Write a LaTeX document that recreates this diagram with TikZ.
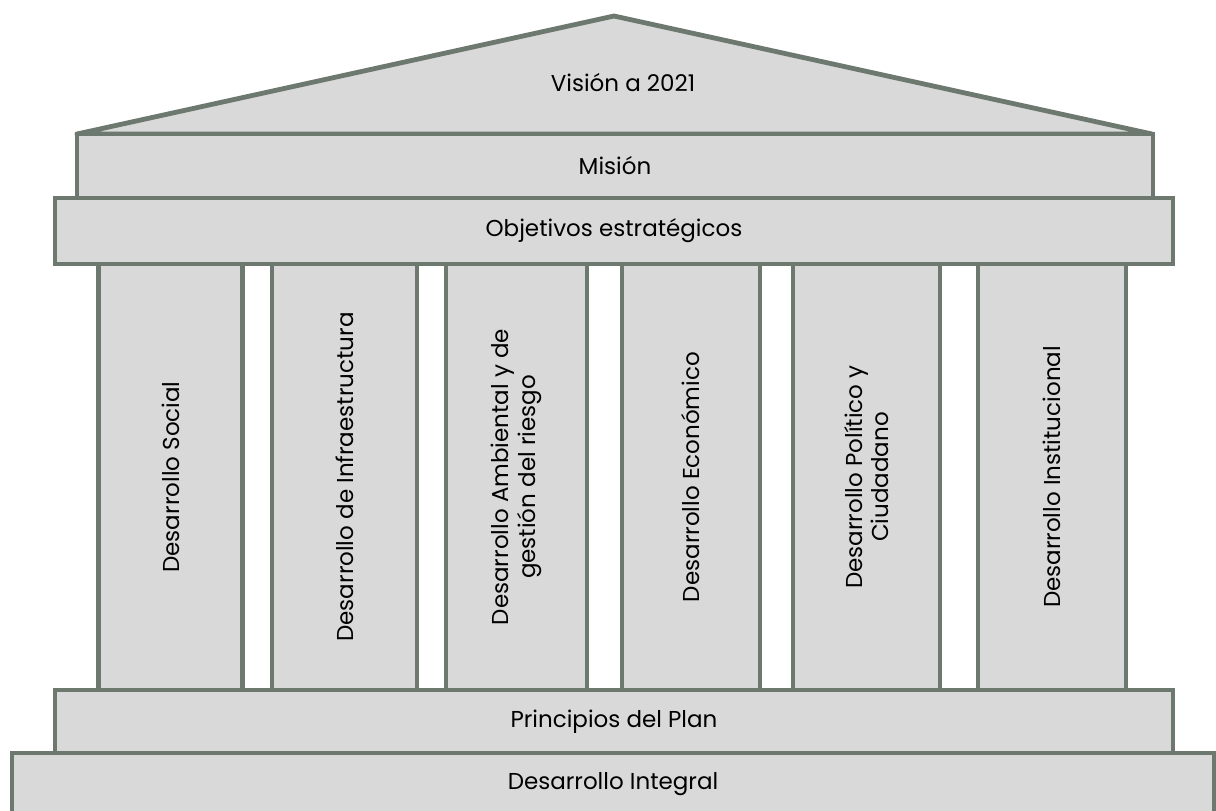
\documentclass[tikz,border=0pt]{standalone}
\usepackage{fontspec}
\setmainfont{Poppins}
\definecolor{slabfill}{HTML}{D9D9D9}
\definecolor{slabedge}{HTML}{6D786F}

\begin{document}
\begin{tikzpicture}[
    x=0.5pt, y=-0.5pt,
    slab/.style={draw=slabedge, fill=slabfill, line width=2.4pt, rectangle,
                 font=\fontsize{11.5}{13.2}\selectfont, inner sep=0pt, align=center},
    pillar/.style={slab, rotate=90, minimum height=#1*0.5pt, minimum width=213pt},
    pillar/.default=144,
]
  \useasboundingbox (0,0) rectangle (1216,810);

  % ---------------- roof ----------------
  \draw[draw=slabedge, fill=slabfill, line width=2.4pt, line join=round]
       (77,134) -- (614,16) -- (1152,134) -- cycle;
  \node[font=\fontsize{11.5}{13.2}\selectfont] (vision) at (623,83) {Visión a 2021};

  % ---------------- entablature ----------------
  \node[slab, minimum width=538pt, minimum height=32pt] (mision) at (615,166) {Misión};
  \node[slab, minimum width=559pt, minimum height=33pt] (objetivos) at (614,231) {Objetivos estratégicos};

  % ---------------- pillars ----------------
  \node[pillar]      (social)   at (170.5,477) {Desarrollo Social};
  \node[pillar=145]  (infra)    at (344.5,477) {Desarrollo de Infraestructura};
  \node[pillar=141]  (ambiente) at (516.5,477) {Desarrollo Ambiental y de\\gestión del riesgo};
  \node[pillar=138]  (economia) at (691,477)   {Desarrollo Económico};
  \node[pillar=147]  (politica) at (866.5,477) {Desarrollo Político y\\Ciudadano};
  \node[pillar=148]  (institut) at (1052,477)  {Desarrollo Institucional};

  % ---------------- base ----------------
  \node[slab, minimum width=559pt, minimum height=31.5pt] (principios) at (614,721.5) {Principios del Plan};
  \node[slab, minimum width=601pt, minimum height=31pt] (integral) at (613,784) {Desarrollo Integral};
\end{tikzpicture}
\end{document}
